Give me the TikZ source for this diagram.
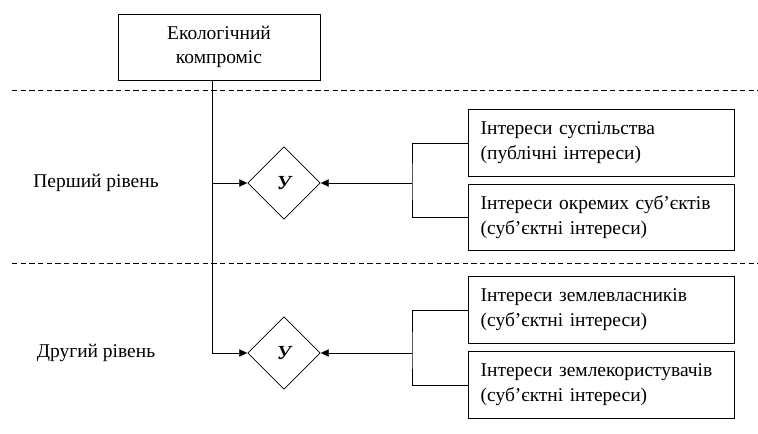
\documentclass[tikz,border=0pt]{standalone}
\usepackage{fontspec}
\setmainfont{Liberation Serif}
\usetikzlibrary{shapes, arrows, arrows.meta, positioning}

\tikzset{
	topbox/.style={draw, rectangle, minimum width=151.5pt, minimum height=49.5pt, align=center, inner sep=0pt},
	intbox/.style={draw, rectangle, minimum height=50pt, text width=180.5pt, inner xsep=9.5pt, align=left},
	choice/.style={draw, diamond, aspect=1, minimum size=54.5pt, inner sep=0pt, font=\fontsize{15}{18}\selectfont\bfseries\itshape},
	conn/.style={-{Triangle[length=6pt, width=5.5pt]}, line width=0.6pt},
}

\begin{document}
\begin{tikzpicture}[x=0.75pt, y=-0.75pt, line width=0.6pt, font=\fontsize{14.6}{18.6}\selectfont]
		\useasboundingbox (0,0) rectangle (758,434);
		
		\foreach \y in {90,263} {
			\draw[dash pattern=on 4pt off 2.5pt] (12,\y) -- (758,\y); % рівні
		}
		
		\node[topbox] (eco) at (219,47) {Екологічний\\компроміс};
		
		\node (lvl1) at (96,183) {Перший рівень};
		\node (lvl2) at (96,353) {Другий рівень};
		
		\node[choice] (d1) at (284,183) {У};
		\node[choice] (d2) at (284,353) {У};
		
		\node[intbox] (b1) at (601,143) {Інтереси суспільства\\(публічні інтереси)};
		\node[intbox] (b2) at (601,217.5) {Інтереси окремих суб’єктів\\(суб’єктні інтереси)};
		\node[intbox] (b3) at (601,310) {Інтереси землевласників\\(суб’єктні інтереси)};
		\node[intbox] (b4) at (601,385) {Інтереси землекористувачів\\(суб’єктні інтереси)};
		
		\coordinate (trunk) at ([xshift=-5.25pt]eco.south);
		\coordinate (j1) at (412,183);
		\coordinate (j2) at (412,353);
		
		\draw[conn] (trunk) |- (d2.west);
		\draw[conn] (trunk |- d1.west) -- (d1.west);
		
		\draw (b1.west) -| (j1) |- (b2.west);
		\draw[conn] (j1) -- (d1.east);
		\draw (b3.west) -| (j2) |- (b4.west);
		\draw[conn] (j2) -- (d2.east);
	\end{tikzpicture}
\end{document}
